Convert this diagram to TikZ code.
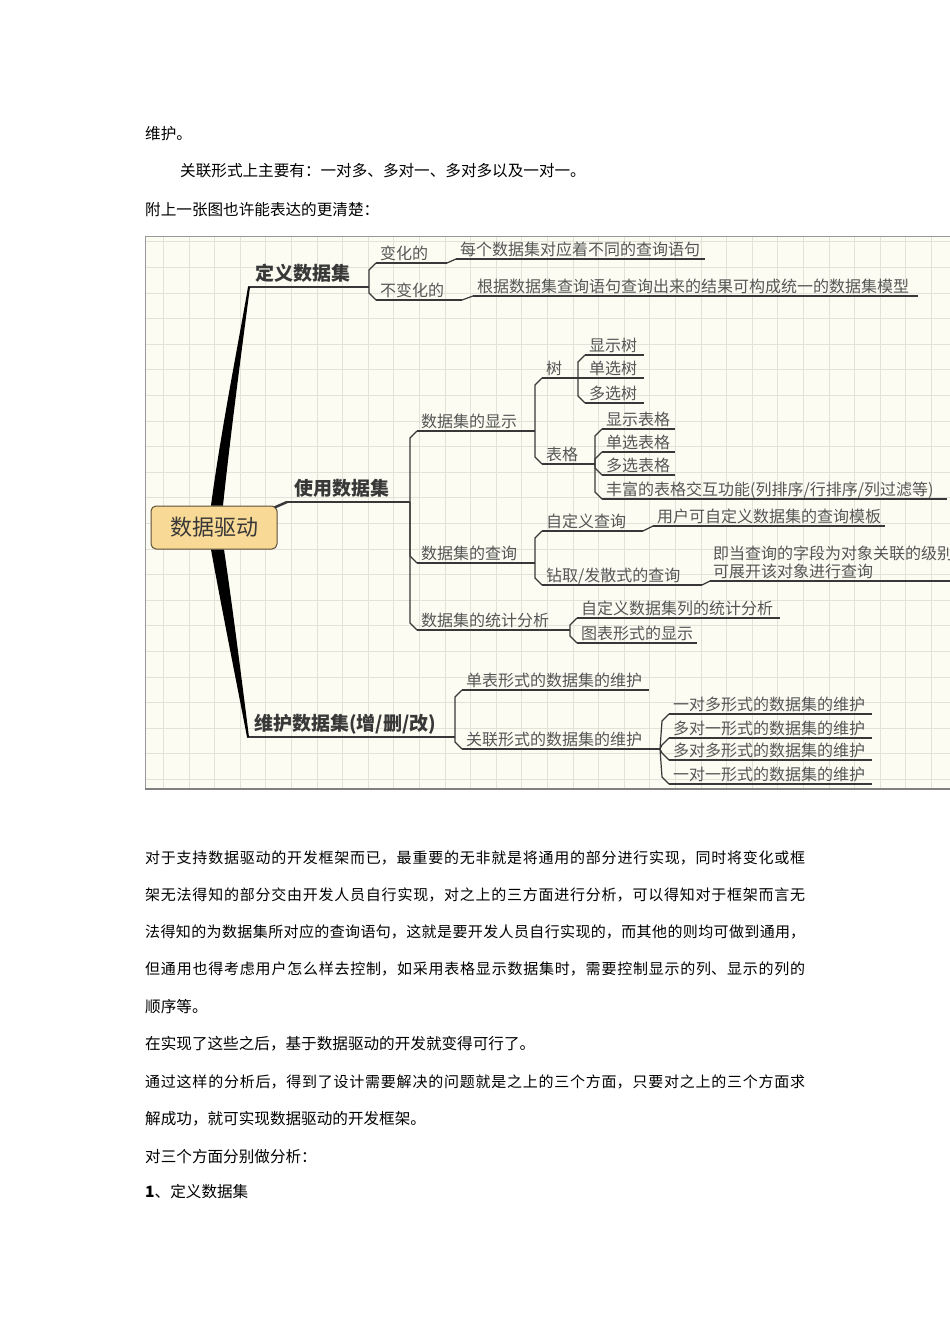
\documentclass[tikz,border=0pt]{standalone}
\usepackage{fontspec}
\setmainfont{Noto Sans CJK SC}
\XeTeXlinebreaklocale "zh"
\XeTeXlinebreakskip=0pt plus 3pt

\definecolor{paper}{HTML}{FCFCF3}
\definecolor{gridc}{HTML}{E2E2D8}
\definecolor{ink}{HTML}{383838}
\definecolor{rootfill}{HTML}{F8D995}
\definecolor{rootline}{HTML}{5E5036}

\tikzset{
  body/.style={anchor=base west, inner sep=0pt, font=\fontsize{15.6}{18}\selectfont},
  jbody/.style={body, text width=660pt, align=justify, font=\fontsize{15}{18}\selectfont},
  lbl/.style={anchor=base west, inner sep=0pt, text=ink!85, font=\fontsize{16}{18}\selectfont},
  mainlbl/.style={lbl, text=ink, font=\fontsize{19}{22}\selectfont\bfseries, xshift=3pt, yshift=3pt},
  rootbox/.style={draw=rootline, fill=rootfill, rounded corners=5pt, line width=1pt,
    minimum width=126pt, minimum height=43pt, inner sep=0pt, text=ink, font=\fontsize{22}{24}\selectfont},
  ln/.style={draw=ink, line width=1.2pt},
  gridline/.style={draw=gridc, line width=0.8pt},
}

% one branch: name, start x, end x, y of the underline, label
\newcommand{\branch}[6][lbl]{%
  \coordinate (#2-l) at (#3,#5);
  \coordinate (#2-r) at (#4,#5);
  \node[#1] (#2) at (#3+4,#5-4) {#6};
  \draw[ln] (#2-l) -- (#2-r);
}
\newcommand{\linkup}[2]{\draw[ln] (#1-r) -- ([xshift=-7pt,yshift=-7pt]#2-l) -- (#2-l);}
\newcommand{\linkdown}[2]{\draw[ln] (#1-r) -- ([xshift=-7pt,yshift=7pt]#2-l) -- (#2-l);}
\newcommand{\linkto}[2]{\draw[ln] (#1-r) -- (#2-l);}
\newcommand{\jl}[1]{\parindent=0pt\parfillskip=0pt\relax #1\par}

\begin{document}
\begin{tikzpicture}[x=1pt, y=-1pt]
\useasboundingbox (0,0) rectangle (950,1344);
\clip (0,0) rectangle (950,1344);

% text above the figure
\node[body] (p1) at (145,139) {维护。};
\node[body] (p2) at (180,176) {关联形式上主要有：一对多、多对一、多对多以及一对一。};
\node[body] (p3) at (145,215) {附上一张图也许能表达的更清楚：};

% frame and grid
\fill[paper] (145,236) rectangle (960,789);
\begin{scope}
  \clip (145,236) rectangle (960,789);
  \foreach \i in {0,...,31} \draw[gridline] (163.3+25.6*\i,236) -- (163.3+25.6*\i,789);
  \foreach \j in {0,...,21} \draw[gridline] (145,241.7+25.6*\j) -- (960,241.7+25.6*\j);
\end{scope}
\draw[gray!80, line width=1pt] (960,236) -- (145,236) -- (145,789);
\draw[gray, line width=2pt] (145,789) -- (960,789);

% root and main branches
\node[rootbox] (root) at (214,527.5) {数据驱动};
\branch[mainlbl]{def}{248}{369}{287}{定义数据集}
\branch[mainlbl]{use}{287}{410}{502}{使用数据集}
\branch[mainlbl]{mnt}{247}{455}{737}{维护数据集(增/删/改)}
\fill[black] ([xshift=-3pt]root.north) .. controls (221,430) and (239,340) .. (def-l)
  -- ([xshift=2pt]def-l) .. controls (243,340) and (231,430) .. ([xshift=9pt]root.north) -- cycle;
\fill[black] ([xshift=-3pt]root.south) .. controls (222,610) and (238,690) .. (mnt-l)
  -- ([xshift=2pt]mnt-l) .. controls (243,690) and (233,610) .. ([xshift=10pt]root.south) -- cycle;
\draw[ln, line width=2.5pt] ([xshift=-3pt,yshift=-2pt]root.north east) -- (use-l);

% 定义数据集
\branch{var}{376}{447}{263}{变化的}
\branch{vard}{456}{705}{259}{每个数据集对应着不同的查询语句}
\branch{inv}{376}{462}{300}{不变化的}
\branch{invd}{473}{918}{296}{根据数据集查询语句查询出来的结果可构成统一的数据集模型}
\linkup{def}{var} \linkdown{def}{inv}
\linkto{var}{vard} \linkto{inv}{invd}

% 使用数据集
\branch{disp}{417}{535}{431}{数据集的显示}
\branch{qry}{417}{535}{563}{数据集的查询}
\branch{stat}{417}{570}{630}{数据集的统计分析}
\linkup{use}{disp} \linkdown{use}{qry} \linkdown{use}{stat}

\branch{tree}{542}{578}{378}{树}
\branch{table}{542}{595}{464}{表格}
\linkup{disp}{tree} \linkdown{disp}{table}

\branch{t1}{585}{644}{355}{显示树}
\branch{t2}{585}{644}{378}{单选树}
\branch{t3}{585}{644}{403}{多选树}
\linkup{tree}{t1} \linkto{tree}{t2} \linkdown{tree}{t3}

\branch{b1}{602}{675}{429}{显示表格}
\branch{b2}{602}{675}{452}{单选表格}
\branch{b3}{602}{675}{475}{多选表格}
\branch{b4}{602}{947}{499}{丰富的表格交互功能(列排序/行排序/列过滤等)}
\linkup{table}{b1} \linkup{table}{b2} \linkdown{table}{b3} \linkdown{table}{b4}

\branch{cq}{542}{643}{531}{自定义查询}
\branch{cqd}{653}{885}{526}{用户可自定义数据集的查询模板}
\branch{dq}{542}{702}{585}{钻取/发散式的查询}
\coordinate (dqd-l) at (710,581);
\coordinate (dqd-r) at (960,581);
\node[lbl, anchor=south west, align=left] (dqd) at (713,579) {即当查询的字段为对象关联的级别\\可展开该对象进行查询};
\draw[ln] (dqd-l) -- (dqd-r);
\linkup{qry}{cq} \linkdown{qry}{dq} \linkto{cq}{cqd} \linkto{dq}{dqd}

\branch{s1}{577}{780}{618}{自定义数据集列的统计分析}
\branch{s2}{577}{697}{643}{图表形式的显示}
\linkup{stat}{s1} \linkdown{stat}{s2}

% 维护数据集
\branch{single}{462}{649}{690}{单表形式的数据集的维护}
\branch{rel}{462}{660}{749}{关联形式的数据集的维护}
\linkup{mnt}{single} \linkdown{mnt}{rel}

\branch{r1}{669}{872}{714}{一对多形式的数据集的维护}
\branch{r2}{669}{872}{738}{多对一形式的数据集的维护}
\branch{r3}{669}{872}{760}{多对多形式的数据集的维护}
\branch{r4}{669}{872}{784}{一对一形式的数据集的维护}
\linkup{rel}{r1} \linkup{rel}{r2} \linkdown{rel}{r3} \linkdown{rel}{r4}

% text below the figure
\node[jbody] (q1) at (145,863) {\jl{对于支持数据驱动的开发框架而已，最重要的无非就是将通用的部分进行实现，同时将变化或框}};
\node[jbody] (q2) at (145,900) {\jl{架无法得知的部分交由开发人员自行实现，对之上的三方面进行分析，可以得知对于框架而言无}};
\node[jbody] (q3) at (145,937) {\jl{法得知的为数据集所对应的查询语句，这就是要开发人员自行实现的，而其他的则均可做到通用，}};
\node[jbody] (q4) at (145,974) {\jl{但通用也得考虑用户怎么样去控制，如采用表格显示数据集时，需要控制显示的列、显示的列的}};
\node[body] (q5) at (145,1012) {顺序等。};
\node[body] (q6) at (145,1049) {在实现了这些之后，基于数据驱动的开发就变得可行了。};
\node[jbody] (q7) at (145,1087) {\jl{通过这样的分析后，得到了设计需要解决的问题就是之上的三个方面，只要对之上的三个方面求}};
\node[body] (q8) at (145,1124) {解成功，就可实现数据驱动的开发框架。};
\node[body] (q9) at (145,1162) {对三个方面分别做分析：};
\node[body] (q10) at (145,1197) {{\bfseries 1}、定义数据集};
\end{tikzpicture}
\end{document}
